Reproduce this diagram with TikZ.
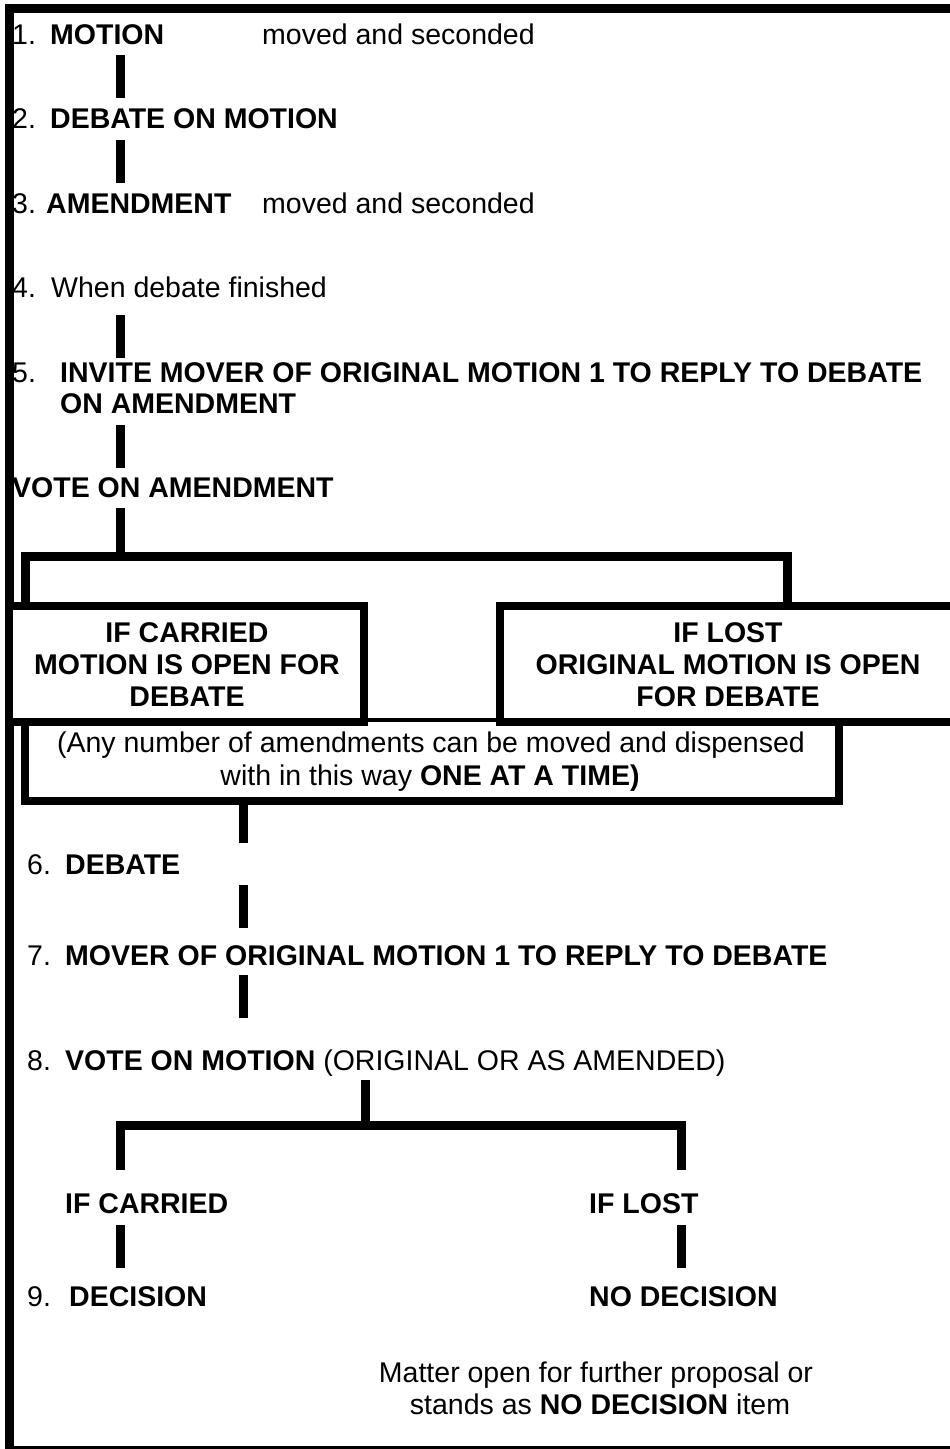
\documentclass[tikz,border=0pt]{standalone}
\usepackage{fontspec}
\setmainfont{Liberation Sans}
\begin{document}
\begin{tikzpicture}[x=1pt,y=-1pt,
  bar/.style={line width=9pt},
  boxline/.style={line width=8.5pt},
  thinline/.style={line width=4pt},
  txt/.style={inner sep=0pt, anchor=base west, font=\fontsize{28.5}{32}\selectfont},
  ctxt/.style={inner sep=0pt, anchor=base, font=\fontsize{28.5}{32}\selectfont},
]
\useasboundingbox (0,0) rectangle (950,1449);
\clip (0,0) rectangle (950,1449);
% outer frame
\draw[bar] (960,8.5) -- (9,8.5) -- (9,1450.5) -- (960,1450.5);

% rows 1-5
\node[txt] (n1) at (12,44) {1.};
\node[txt] (t1) at (50,44) {\bfseries MOTION};
\node[txt] (m1) at (262,44) {moved and seconded};
\node[txt] (n2) at (12,128) {2.};
\node[txt] (t2) at (50,128) {\bfseries DEBATE ON MOTION};
\node[txt] (n3) at (12,213) {3.};
\node[txt] (t3) at (46,213) {\bfseries AMENDMENT};
\node[txt] (m3) at (262,213) {moved and seconded};
\node[txt] (n4) at (12,297) {4.};
\node[txt] (t4) at (51,297) {When debate finished};
\node[txt] (n5) at (12,382) {5.};
\node[txt] (t5a) at (60,382) {\bfseries INVITE MOVER OF ORIGINAL MOTION 1 TO REPLY TO DEBATE};
\node[txt] (t5b) at (60,413) {\bfseries ON AMENDMENT};
\node[txt] (va) at (12,497) {\bfseries VOTE ON AMENDMENT};

\coordinate (c1a) at (120,55);  \coordinate (c1b) at (120,98);
\coordinate (c2a) at (120,140); \coordinate (c2b) at (120,183);
\coordinate (c3a) at (120,315); \coordinate (c3b) at (120,358);
\coordinate (c4a) at (120,425); \coordinate (c4b) at (120,468);
\coordinate (c5a) at (120,508); \coordinate (c5b) at (120,556);
\draw[bar] (c1a) -- (c1b);
\draw[bar] (c2a) -- (c2b);
\draw[bar] (c3a) -- (c3b);
\draw[bar] (c4a) -- (c4b);
\draw[bar] (c5a) -- (c5b);

% split to the two boxes
\coordinate (sl) at (25,556); \coordinate (sr) at (787,556);
\coordinate (slb) at (25,606); \coordinate (srb) at (787,606);
\draw[bar] (slb) -- (sl) -- (sr) -- (srb);

% amendments box
\draw[boxline] (25,720) -- (25,801) -- (839,801) -- (839,720);
\draw[thinline] (25,720) -- (839,720);
\node[ctxt] (am1) at (431,752) {(Any number of amendments can be moved and dispensed};
\node[ctxt] (am2) at (430,785) {with in this way \bfseries ONE AT A TIME)};

% two boxes
\draw[boxline, fill=white] (9,606) rectangle (364,722);
\draw[boxline, fill=white] (500,606) rectangle (970,722);
\node[ctxt] (lb1) at (187,642) {\bfseries IF CARRIED};
\node[ctxt] (lb2) at (187,674) {\bfseries MOTION IS OPEN FOR};
\node[ctxt] (lb3) at (187,706) {\bfseries DEBATE};
\node[ctxt] (rb1) at (728,642) {\bfseries IF LOST};
\node[ctxt] (rb2) at (728,674) {\bfseries ORIGINAL MOTION IS OPEN};
\node[ctxt] (rb3) at (728,706) {\bfseries FOR DEBATE};

% rows 6-8
\node[txt] (n6) at (27,874) {6.};
\node[txt] (t6) at (65,874) {\bfseries DEBATE};
\node[txt] (n7) at (27,965) {7.};
\node[txt] (t7) at (65,965) {\bfseries MOVER OF ORIGINAL MOTION 1 TO REPLY TO DEBATE};
\node[txt] (n8) at (27,1070) {8.};
\node[txt] (t8) at (65,1070) {\bfseries VOTE ON MOTION \mdseries(ORIGINAL OR AS AMENDED)};

\coordinate (c6a) at (243,805); \coordinate (c6b) at (243,843);
\coordinate (c7a) at (243,885); \coordinate (c7b) at (243,928);
\coordinate (c8a) at (243,975); \coordinate (c8b) at (243,1018);
\draw[bar] (c6a) -- (c6b);
\draw[bar] (c7a) -- (c7b);
\draw[bar] (c8a) -- (c8b);

% final split
\coordinate (c9a) at (365,1080); \coordinate (c9b) at (365,1125);
\coordinate (fl) at (120,1125); \coordinate (fr) at (681,1125);
\coordinate (flb) at (120,1170); \coordinate (frb) at (681,1170);
\draw[bar] (c9a) -- (c9b);
\draw[bar] (flb) -- (fl) -- (fr) -- (frb);

\node[txt] (ic) at (65,1213) {\bfseries IF CARRIED};
\node[txt] (il) at (589,1213) {\bfseries IF LOST};
\coordinate (d1a) at (120,1225); \coordinate (d1b) at (120,1268);
\coordinate (d2a) at (681,1225); \coordinate (d2b) at (681,1268);
\draw[bar] (d1a) -- (d1b);
\draw[bar] (d2a) -- (d2b);

\node[txt] (n9) at (27,1306) {9.};
\node[txt] (t9) at (69,1306) {\bfseries DECISION};
\node[txt] (nd) at (589,1306) {\bfseries NO DECISION};

\node[ctxt] (mt1) at (596,1382) {Matter open for further proposal or};
\node[ctxt] (mt2) at (600,1414) {stands as \bfseries NO DECISION \mdseries item};
\end{tikzpicture}
\end{document}
